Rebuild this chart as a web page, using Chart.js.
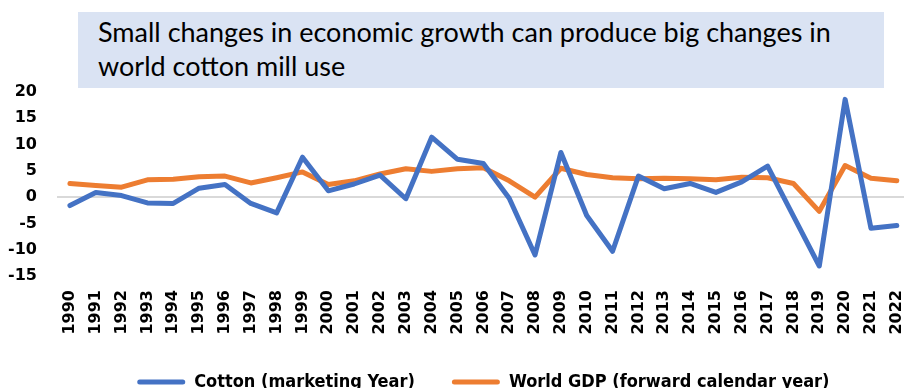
<!DOCTYPE html>
<html>
<head>
<meta charset="utf-8">
<title>Cotton mill use vs world GDP</title>
<script src="https://cdn.jsdelivr.net/npm/chart.js@4.4.1/dist/chart.umd.min.js"></script>
<style>
    html, body {
        margin: 0;
        padding: 0;
        background: #ffffff;
        overflow: hidden;
    }
    #wrap {
        position: relative;
        width: 916px;
        height: 400px;
    }
    #titleBox {
        position: absolute;
        left: 78px;
        top: 12px;
        width: 786px;
        height: 73px;
        padding: 3px 0 0 20px;
        background: #dae3f3;
        font-family: Lato, "Open Sans", sans-serif;
        font-size: 27px;
        line-height: 34px;
        color: #000000;
        z-index: 2;
    }
</style>
</head>
<body>
<div id="wrap">
    <div id="titleBox">Small changes in economic growth can produce big changes in<br>world cotton mill use</div>
    <canvas id="millChart"></canvas>
</div>
<script>
// years on the x axis
var years = ['1990', '1991', '1992', '1993', '1994', '1995', '1996', '1997', '1998', '1999',
    '2000', '2001', '2002', '2003', '2004', '2005', '2006', '2007', '2008', '2009',
    '2010', '2011', '2012', '2013', '2014', '2015', '2016', '2017', '2018', '2019',
    '2020', '2021', '2022'];

// percent change
var cottonUse = [-1.6, 0.9, 0.3, -1.1, -1.2, 1.7, 2.4, -1.2, -3.0, 7.6,
    1.2, 2.5, 4.2, -0.3, 11.4, 7.2, 6.4, -0.2, -11.0, 8.5,
    -3.5, -10.3, 4.0, 1.6, 2.6, 0.9, 2.9, 5.9, -3.6, -13.1,
    18.6, -5.9, -5.4];
var worldGdp = [2.6, 2.2, 1.9, 3.3, 3.4, 3.9, 4.0, 2.7, 3.7, 4.8,
    2.4, 3.1, 4.4, 5.4, 4.9, 5.4, 5.6, 3.1, 0.0, 5.5,
    4.3, 3.7, 3.5, 3.6, 3.5, 3.3, 3.8, 3.7, 2.6, -2.7,
    6.0, 3.6, 3.1];

var seriesNames = ['Cotton (marketing Year)', 'World GDP (forward calendar year)'];
var yTicks = [-15, -10, -5, 0, 5, 10, 15, 20];

var tickFont = {family: 'DejaVu Sans', weight: 'bold', size: 16};

function lineSet(label, data, color) {
    "use strict";
    return {
        label: label,
        data: data,
        borderColor: color,
        backgroundColor: color,
        borderWidth: 5,
        borderJoinStyle: 'round',
        borderCapStyle: 'round',
        pointRadius: 0,
        pointHoverRadius: 0,
        tension: 0,
        fill: false
    };
}

(function () {
    "use strict";
    var ctx = document.getElementById('millChart').getContext('2d');

    new Chart(ctx, {
        type: 'line',
        data: {
            labels: years,
            datasets: [
                lineSet(seriesNames[0], cottonUse, '#4472c4'),
                lineSet(seriesNames[1], worldGdp, '#ed7d31')
            ]
        },
        options: {
            responsive: true,
            maintainAspectRatio: false,
            animation: false,
            layout: {padding: {top: 92, right: 0, left: 0, bottom: 0}},
            plugins: {
                title: {display: false},
                tooltip: {enabled: false},
                legend: {
                    position: 'bottom',
                    fullSize: false,
                    maxHeight: 64,
                    labels: {
                        color: '#000000',
                        font: {family: "'Liberation Sans Narrow', 'DejaVu Sans Condensed', 'Liberation Sans'", weight: 'bold', size: 18},
                        boxWidth: 48,
                        boxHeight: 5,
                        padding: 37,
                        useBorderRadius: true,
                        borderRadius: 2.5,
                        generateLabels: function (chart) {
                            var items = Chart.defaults.plugins.legend.labels.generateLabels(chart);
                            items.forEach(function (it) {
                                it.lineWidth = 0;
                            });
                            return items;
                        }
                    }
                }
            },
            scales: {
                x: {
                    offset: true,
                    grid: {display: false, drawTicks: true, tickLength: 14},
                    border: {display: false},
                    ticks: {
                        color: '#000000',
                        font: tickFont,
                        minRotation: 90,
                        maxRotation: 90,
                        autoSkip: false,
                        padding: 0
                    },
                    afterFit: function (scale) {
                        scale.height = 60;
                    }
                },
                y: {
                    min: yTicks[0],
                    max: yTicks[yTicks.length - 1],
                    grid: {
                        drawTicks: false,
                        lineWidth: 2,
                        color: function (c) {
                            return c.tick && c.tick.value === 0 ? '#d9d9d9' : 'rgba(0,0,0,0)';
                        }
                    },
                    border: {display: false},
                    ticks: {
                        color: '#000000',
                        font: tickFont,
                        stepSize: 5,
                        padding: 20
                    },
                    afterFit: function (scale) {
                        scale.width = 57;
                    }
                }
            }
        }
    });
    console.log('chart drawn');
})();
</script>
</body>
</html>
